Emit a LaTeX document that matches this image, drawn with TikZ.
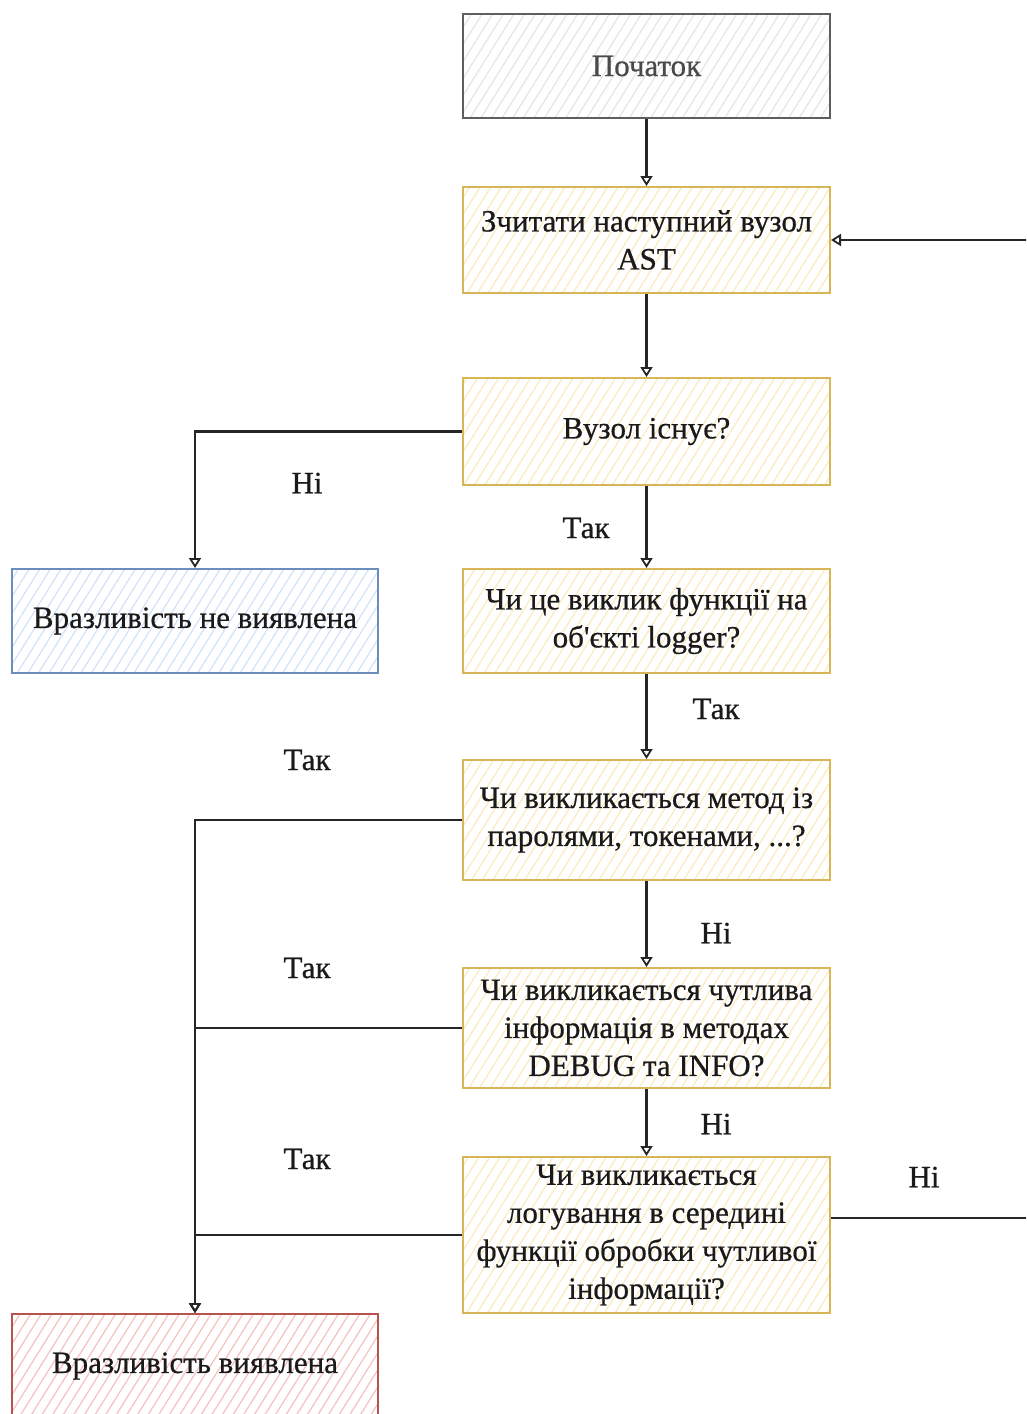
\documentclass[tikz,border=0pt]{standalone}
\usepackage{fontspec}
\setmainfont{Liberation Serif}
\newfontfamily\sketchfont[FakeBold=0.6]{Liberation Serif}
\usetikzlibrary{patterns.meta,arrows.meta}

\definecolor{linec}{HTML}{262626}
\definecolor{textc}{HTML}{1A1A1A}
\definecolor{startline}{HTML}{5E5E5E}
\definecolor{starthatch}{HTML}{E6E6E6}
\definecolor{startfg}{HTML}{4A4A4A}
\definecolor{yline}{HTML}{D6B656}
\definecolor{yhatch}{HTML}{FBEBC0}
\definecolor{bline}{HTML}{6C8EBF}
\definecolor{bhatch}{HTML}{D3E3FA}
\definecolor{rline}{HTML}{B85450}
\definecolor{rhatch}{HTML}{F5C4C2}

\tikzset{
  txt/.style={font=\sketchfont\fontsize{31}{38}\selectfont, text=textc},
  box/.style={txt, line width=2pt, minimum width=367pt, align=center, inner sep=3pt,
    pattern={Lines[angle=58,distance=9pt,line width=1.3pt]}},
  graybox/.style={box, draw=startline, pattern color=starthatch, text=startfg},
  yellowbox/.style={box, draw=yline, pattern color=yhatch},
  bluebox/.style={box, draw=bline, pattern color=bhatch},
  redbox/.style={box, draw=rline, pattern color=rhatch},
  flow/.style={draw=linec, line width=2.4pt,
    -{Triangle[open,length=10pt,width=12pt,line width=1.8pt]}},
  lbl/.style={txt}
}

\begin{document}
\begin{tikzpicture}[x=1pt,y=-1pt]
  \useasboundingbox (0,0) rectangle (1026,1414);
  \clip (0,0) rectangle (1026,1414);

  % main column
  \node[graybox, minimum height=104pt] (start) at (646.5,66) {Початок};
  \node[yellowbox, minimum height=106pt] (read) at (646.5,240) {Зчитати наступний вузол\\AST};
  \node[yellowbox, minimum height=107pt] (exists) at (646.5,431.5) {Вузол існує?};
  \node[yellowbox, minimum height=104pt] (logger) at (646.5,621) {Чи це виклик функції на\\об\textquotesingle єкті logger?};
  \node[yellowbox, minimum height=120pt] (method) at (646.5,820) {Чи викликається метод із\\паролями, токенами, ...?};
  \node[yellowbox, minimum height=120pt] (sensitive) at (646.5,1028) {Чи викликається чутлива\\інформація в методах\\DEBUG та INFO?};
  \node[yellowbox, minimum height=156pt] (logging) at (646.5,1235) {Чи викликається\\логування в середині\\функції обробки чутливої\\інформації?};

  % outcomes
  \node[bluebox, minimum width=366pt, minimum height=104pt] (notfound) at (195,621) {Вразливість не виявлена};
  \node[redbox, minimum width=366pt, minimum height=104pt] (found) at (195,1366) {Вразливість виявлена};

  % straight flow
  \draw[flow] (start) -- (read);
  \draw[flow] (read) -- (exists);
  \draw[flow] (exists) -- (logger);
  \draw[flow] (logger) -- (method);
  \draw[flow] (method) -- (sensitive);
  \draw[flow] (sensitive) -- (logging);

  % branches to the outcomes
  \draw[flow] (exists.west) -| (notfound.north);
  \draw[flow] (method.west) -| (found.north);
  \draw[flow] (sensitive.west) -| (found.north);
  \draw[flow] (logging.west) -| (found.north);

  % loop back to the next AST node
  \coordinate (loopx) at (1060,1218);
  \draw[flow] ([yshift=17pt]logging.east) -- (loopx) |- (read.east);

  % branch labels
  \node[lbl] (l1) at (307,483) {Ні};
  \node[lbl] (l2) at (586,528) {Так};
  \node[lbl] (l3) at (716,709) {Так};
  \node[lbl] (l4) at (307,760) {Так};
  \node[lbl] (l5) at (716,933) {Ні};
  \node[lbl] (l6) at (307,968) {Так};
  \node[lbl] (l7) at (716,1124) {Ні};
  \node[lbl] (l8) at (307,1159) {Так};
  \node[lbl] (l9) at (924,1177) {Ні};
\end{tikzpicture}
\end{document}
